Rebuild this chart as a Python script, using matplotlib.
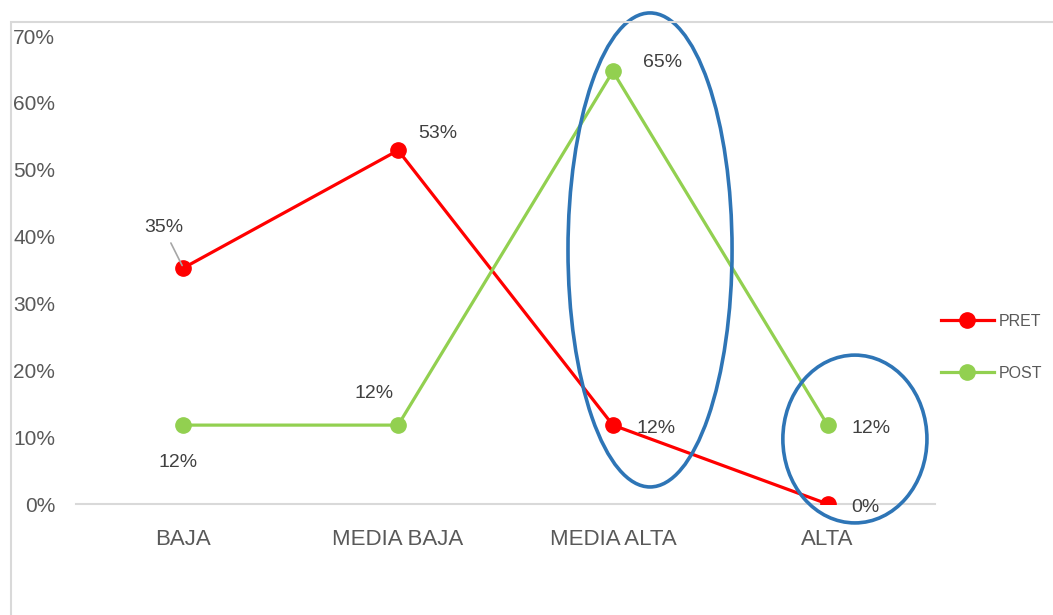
import numpy as np
import matplotlib.pyplot as plt
from matplotlib.patches import Ellipse, Rectangle
from matplotlib.ticker import FuncFormatter

plt.rcParams['font.family'] = ['Liberation Sans', 'DejaVu Sans']

# datos
categorias = ['BAJA', 'MEDIA BAJA', 'MEDIA ALTA', 'ALTA']
pret = [35.3, 52.9, 11.8, 0.0]
post = [11.8, 11.8, 64.7, 11.8]
pret_etiq = ['35%', '53%', '12%', '0%']
post_etiq = ['12%', '12%', '65%', '12%']

rojo = '#FF0000'
verde = '#92D050'
azul = '#2E75B6'
gris = '#595959'

fig = plt.figure(figsize=(10.53, 6.15), dpi=100)
ax = fig.add_axes([76/1053, 111/615, 859/1053, 468/615])

x = np.arange(len(categorias))
ax.plot(x, pret, color=rojo, lw=2.3, marker='o', ms=11, label='PRET', zorder=3)
ax.plot(x, post, color=verde, lw=2.3, marker='o', ms=11, label='POST', zorder=3)

# etiquetas de datos (desplazamiento en pixeles)
off_pret = [(-20, 40), (40, 17), (43, -3), (38, -4)]
off_post = [(-5, -37), (-24, 32), (50, 9), (43, -3)]
for i in range(len(x)):
    if i == 0:
        ax.annotate(pret_etiq[i], (x[i], pret[i]), xytext=off_pret[i], textcoords='offset pixels',
                    ha='center', va='center', fontsize=14, color='#404040',
                    arrowprops=dict(arrowstyle='-', color='#A6A6A6', lw=1.2, shrinkA=3, shrinkB=2))
    else:
        ax.annotate(pret_etiq[i], (x[i], pret[i]), xytext=off_pret[i], textcoords='offset pixels',
                    ha='center', va='center', fontsize=14, color='#404040')
    ax.annotate(post_etiq[i], (x[i], post[i]), xytext=off_post[i], textcoords='offset pixels',
                ha='center', va='center', fontsize=14, color='#404040')

# elipses
ax.add_patch(Ellipse((2.173, 38.0), 0.764, 70.9, fill=False, ec=azul, lw=2.6, clip_on=False, zorder=4))
ax.add_patch(Ellipse((3.127, 9.72), 0.671, 25.1, fill=False, ec=azul, lw=2.6, clip_on=False, zorder=4))

ax.set_xlim(-0.5, 3.5)
ax.set_ylim(0, 70)
ax.set_yticks(range(0, 71, 10))
ax.yaxis.set_major_formatter(FuncFormatter(lambda v, p: '%d%%' % v))
ax.set_xticks(x)
ax.set_xticklabels(categorias)
ax.tick_params(axis='y', length=0, pad=15, labelsize=15, labelcolor=gris)
ax.tick_params(axis='x', length=0, pad=18, labelsize=16, labelcolor=gris)
for s in ['top', 'right', 'left']:
    ax.spines[s].set_visible(False)
ax.spines['bottom'].set_color('#D9D9D9')
ax.spines['bottom'].set_linewidth(1.5)

# marco
fig.patches.append(Rectangle((11/1053, -0.05), 1.1, 0.05 + 593/615, transform=fig.transFigure,
                             fill=False, ec='#D9D9D9', lw=1.5, zorder=0))

leg = ax.legend(loc='upper left', bbox_to_anchor=(941/1053, 1 - 314/615), bbox_transform=fig.transFigure,
                frameon=False, fontsize=11.5, handlelength=3.3, labelspacing=2.3,
                handletextpad=0.3, borderpad=0, borderaxespad=0)
for t in leg.get_texts():
    t.set_color(gris)

fig.savefig('out.png', dpi=100)
